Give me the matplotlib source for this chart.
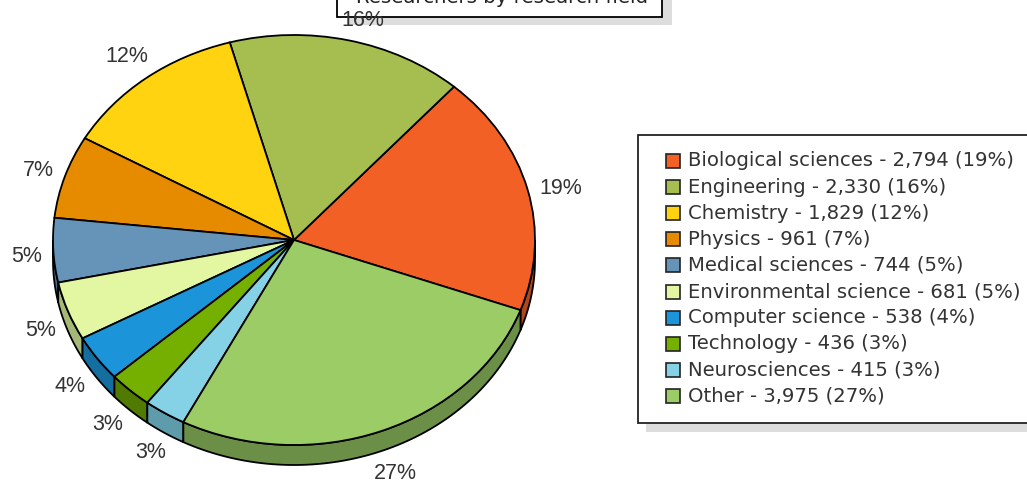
import numpy as np
import matplotlib
matplotlib.use("Agg")
import matplotlib.pyplot as plt
from matplotlib.patches import Rectangle

W, H = 1027, 482
categories = ["Biological sciences", "Engineering", "Chemistry", "Physics", "Medical sciences",
              "Environmental science", "Computer science", "Technology", "Neurosciences", "Other"]
values = [2794, 2330, 1829, 961, 744, 681, 538, 436, 415, 3975]
percents = [19, 16, 12, 7, 5, 5, 4, 3, 3, 27]
colors = ["#F26026", "#A6BD50", "#FFD30F", "#E68A00", "#6694B8",
          "#E3F7A3", "#1C94D9", "#75B000", "#85D1E6", "#9BCC66"]
side_colors = ["#B0461C", "#7A8C3A", "#BA9A0B", "#A86500", "#4B6D87",
               "#A6B877", "#146FA0", "#507A00", "#5F9CAB", "#6B8F47"]
title = "Researchers by research field"

fig = plt.figure(figsize=(W / 100, H / 100), dpi=100, facecolor="white")

# overlay axes in pixel coordinates for boxes and text
ov = fig.add_axes([0, 0, 1, 1], zorder=1)
ov.set_xlim(0, W); ov.set_ylim(H, 0); ov.axis("off")

# pie axes: the unit circle maps to the ellipse of the top face
cx, cy, rx, ry, depth = 294, 240, 241, 205, 20
ax = fig.add_axes([(cx - rx) / W, 1 - (cy + ry) / H, 2 * rx / W, 2 * ry / H], zorder=2)
start = -20.0
ax.pie(values, colors=colors, startangle=start, counterclock=True, radius=1,
       wedgeprops=dict(edgecolor="black", linewidth=1.3, clip_on=False))
ax.set_aspect("auto")
ax.set_xlim(-1, 1); ax.set_ylim(-1, 1)
ax.axis("off")

# extruded rim for the front half of the pie
d = depth / ry
fracs = np.array(values) / sum(values)
edges = start + 360 * np.concatenate([[0], np.cumsum(fracs)])
for a0, a1, sc in zip(edges[:-1], edges[1:], side_colors):
    # front half is angles in [180, 360] modulo 360
    for shift in (0, -360, 360):
        lo = max(a0 + shift, 180)
        hi = min(a1 + shift, 360)
        if hi > lo:
            t = np.radians(np.linspace(lo, hi, 80))
            xs = np.concatenate([np.cos(t), np.cos(t[::-1])])
            ys = np.concatenate([np.sin(t), np.sin(t[::-1]) - d])
            ax.fill(xs, ys, facecolor=sc, edgecolor="black", linewidth=1.3,
                    clip_on=False, zorder=0)

# title box, cut off by the top of the image
ov.add_patch(Rectangle((347, -10), 325, 35, facecolor="#DDDDDD", edgecolor="none", zorder=1))
ov.add_patch(Rectangle((337, -20), 325, 37, facecolor="white", edgecolor="black", linewidth=1.3, zorder=2))
ov.text(502, 3, title, family="DejaVu Sans", fontsize=14.2, color="#222222",
        ha="center", va="baseline", zorder=3)

# legend box, running past the right edge
ov.add_patch(Rectangle((646, 143), 400, 289, facecolor="#DDDDDD", edgecolor="none", zorder=1))
ov.add_patch(Rectangle((638, 135), 400, 288, facecolor="white", edgecolor="#222222", linewidth=1.3, zorder=2))
row_y = 161.0
row_step = 26.1
for i, (c, v, p, col) in enumerate(zip(categories, values, percents, colors)):
    y = row_y + i * row_step
    ov.add_patch(Rectangle((665.5, y - 7), 14, 14, facecolor=col, edgecolor="#222222", linewidth=1.2, zorder=3))
    ov.text(688, y, f"{c} - {v:,} ({p}%)", family="DejaVu Sans", fontsize=14.1,
            color="#333333", ha="left", va="center", zorder=3)

# percentage labels (above pie)
top = fig.add_axes([0, 0, 1, 1], zorder=3)
top.set_xlim(0, W); top.set_ylim(H, 0); top.axis("off")
label_x = [561, 363, 127, 38, 27, 41, 70, 108, 151, 395]
label_y = [188, 20, 56, 171, 256, 330, 387, 424, 452, 473.5]
for x, y, p in zip(label_x, label_y, percents):
    top.text(x, y, f"{p}%", family="Liberation Sans", fontsize=15.5, color="#333333",
             ha="center", va="center")

fig.savefig("out.png", dpi=100)
